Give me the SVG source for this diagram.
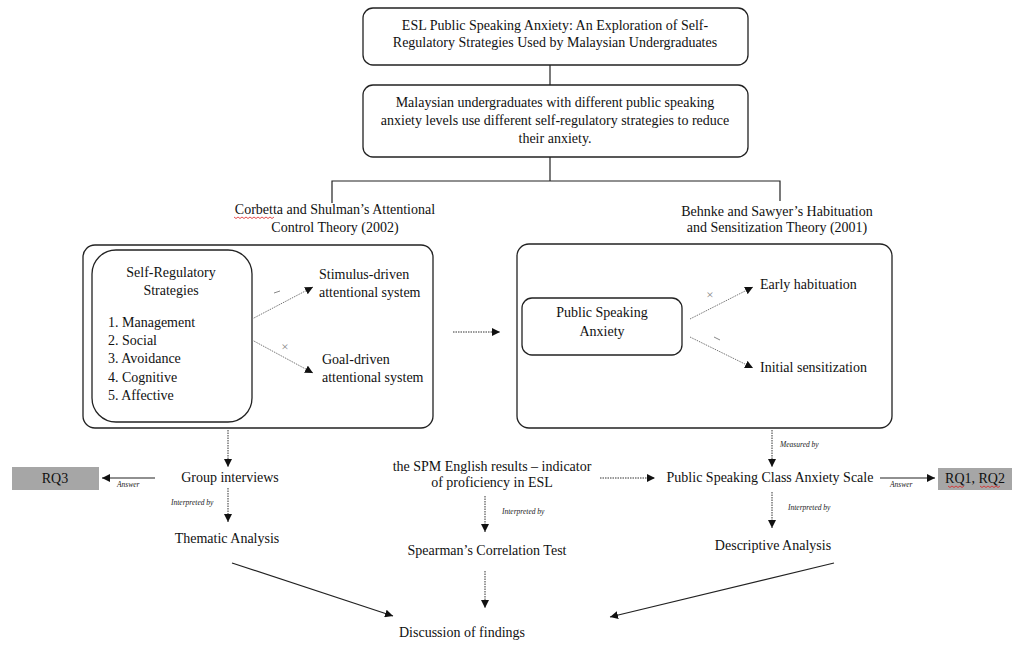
<svg xmlns="http://www.w3.org/2000/svg" width="1012" height="646" viewBox="0 0 1012 646" font-family="Liberation Serif, DejaVu Serif, serif">
  <style>
    .t { font-family: "Liberation Serif", "DejaVu Serif", serif; font-size: 14px; fill: #111; }
    .c { text-anchor: middle; }
    .lab { font-family: "Liberation Serif", "DejaVu Serif", serif; font-size: 7.5px; font-style: italic; fill: #222; }
    .sym { font-family: "Liberation Serif", "DejaVu Serif", serif; font-size: 13px; fill: #888; text-anchor: middle; }
    .box { fill: none; stroke: #222; stroke-width: 1.3; }
    .rq { fill: #a6a6a6; stroke: none; }
    .solid { fill: none; stroke: #222; stroke-width: 1.2; }
    .dot { fill: none; stroke: #333; stroke-width: 1; stroke-dasharray: 1.5 1; }
    .dotg { fill: none; stroke: #777; stroke-width: 1; stroke-dasharray: 1.5 1; }
    .squig { fill: none; stroke: #d22; stroke-width: 0.8; }
  </style>
  <defs>
    <marker id="ah" markerUnits="userSpaceOnUse" markerWidth="9" markerHeight="8" refX="8" refY="4" orient="auto">
      <path d="M0,0 L8,4 L0,8 Z" fill="#111"/>
    </marker>
  </defs>
  <rect width="1012" height="646" fill="#fff"/>

  <g id="title">
    <rect class="box" x="363" y="8" width="385" height="57" rx="10"/>
    <text class="t c" x="555" y="30">ESL Public Speaking Anxiety: An Exploration of Self-</text>
    <text class="t c" x="555" y="47">Regulatory Strategies Used by Malaysian Undergraduates</text>
  </g>

  <g id="hypothesis">
    <rect class="box" x="363" y="85" width="385" height="72" rx="10"/>
    <text class="t c" x="555" y="107">Malaysian undergraduates with different public speaking</text>
    <text class="t c" x="555" y="125">anxiety levels use different self-regulatory strategies to reduce</text>
    <text class="t c" x="555" y="143">their anxiety.</text>
  </g>

  <g id="theory-left-title">
    <text class="t c" x="335" y="214">Corbetta and Shulman’s Attentional</text>
    <text class="t c" x="335" y="232">Control Theory (2002)</text>
    <path class="squig" d="M234,217 l2,1.5 l2,-1.5 l2,1.5 l2,-1.5 l2,1.5 l2,-1.5 l2,1.5 l2,-1.5 l2,1.5 l2,-1.5 l2,1.5 l2,-1.5 l2,1.5 l2,-1.5 l2,1.5 l2,-1.5 l2,1.5 l2,-1.5 l2,1.5 l2,-1.5"/>
  </g>

  <g id="theory-right-title">
    <text class="t c" x="777" y="216">Behnke and Sawyer’s Habituation</text>
    <text class="t c" x="777" y="232">and Sensitization Theory (2001)</text>
  </g>

  <g id="attentional-control">
    <rect class="box" x="83" y="245" width="350" height="183" rx="12"/>
  </g>

  <g id="strategies">
    <rect class="box" x="92" y="250" width="160" height="172" rx="24"/>
    <text class="t c" x="171" y="277">Self-Regulatory</text>
    <text class="t c" x="171" y="295">Strategies</text>
    <text class="t" x="108" y="327">1. Management</text>
    <text class="t" x="108" y="345">2. Social</text>
    <text class="t" x="108" y="363">3. Avoidance</text>
    <text class="t" x="108" y="382">4. Cognitive</text>
    <text class="t" x="108" y="400">5. Affective</text>
  </g>

  <g id="stimulus-driven">
    <text class="t" x="319" y="279">Stimulus-driven</text>
    <text class="t" x="319" y="297">attentional system</text>
  </g>

  <g id="goal-driven">
    <text class="t" x="322" y="364">Goal-driven</text>
    <text class="t" x="322" y="382">attentional system</text>
  </g>

  <g id="habituation-sensitization">
    <rect class="box" x="517" y="244" width="375" height="184" rx="12"/>
  </g>

  <g id="psa">
    <rect class="box" x="522" y="298" width="160" height="57" rx="10"/>
    <text class="t c" x="602" y="317">Public Speaking</text>
    <text class="t c" x="602" y="336">Anxiety</text>
  </g>

  <g id="early-habituation">
    <text class="t" x="760" y="289">Early habituation</text>
  </g>

  <g id="initial-sensitization">
    <text class="t" x="760" y="372">Initial sensitization</text>
  </g>

  <g id="rq3">
    <rect class="rq" x="12" y="467" width="87" height="23"/>
    <text class="t c" x="55" y="483">RQ3</text>
  </g>

  <g id="group-interviews">
    <text class="t c" x="230" y="482">Group interviews</text>
  </g>

  <g id="thematic-analysis">
    <text class="t c" x="227" y="543">Thematic Analysis</text>
  </g>

  <g id="spm-results">
    <text class="t c" x="492" y="471">the SPM English results – indicator</text>
    <text class="t c" x="492" y="487">of proficiency in ESL</text>
  </g>

  <g id="spearman">
    <text class="t c" x="487" y="555">Spearman’s Correlation Test</text>
  </g>

  <g id="pscas">
    <text class="t c" x="770" y="482">Public Speaking Class Anxiety Scale</text>
  </g>

  <g id="rq1-rq2">
    <rect class="rq" x="938" y="468" width="74" height="22"/>
    <text class="t c" x="975" y="483">RQ1, RQ2</text>
    <path class="squig" d="M948,486 l2,1.5 l2,-1.5 l2,1.5 l2,-1.5 l2,1.5 l2,-1.5 l2,1.5 l2,-1.5 M980,486 l2,1.5 l2,-1.5 l2,1.5 l2,-1.5 l2,1.5 l2,-1.5 l2,1.5 l2,-1.5 l2,1.5 l2,-1.5"/>
  </g>

  <g id="descriptive-analysis">
    <text class="t c" x="773" y="550">Descriptive Analysis</text>
  </g>

  <g id="discussion">
    <text class="t c" x="462" y="637">Discussion of findings</text>
  </g>

  <!-- connectors -->
  <g id="connectors">
    <line class="solid" x1="550" y1="65" x2="550" y2="85"/>
    <polyline class="solid" points="550,157 550,181"/>
    <polyline class="solid" points="332,203 332,181 780,181 780,201"/>
    <!-- inside left box -->
    <line class="dotg" x1="252" y1="319" x2="313" y2="287" marker-end="url(#ah)"/>
    <line class="dotg" x1="252" y1="340" x2="313" y2="373" marker-end="url(#ah)"/>
    <line x1="274" y1="293" x2="280" y2="291" stroke="#888" stroke-width="1"/>
    <text class="sym" x="285" y="351">×</text>
    <!-- between boxes -->
    <line class="dot" x1="453" y1="332" x2="500" y2="332" marker-end="url(#ah)"/>
    <!-- inside right box -->
    <line class="dotg" x1="690" y1="319" x2="753" y2="287" marker-end="url(#ah)"/>
    <line class="dotg" x1="690" y1="337" x2="753" y2="368" marker-end="url(#ah)"/>
    <text class="sym" x="710" y="299">×</text>
    <line x1="714" y1="337" x2="720" y2="340" stroke="#888" stroke-width="1"/>
    <!-- left column -->
    <line class="dot" x1="228" y1="430" x2="228" y2="467" marker-end="url(#ah)"/>
    <line class="solid" x1="155" y1="478" x2="102" y2="478" marker-end="url(#ah)"/>
    <text class="lab" x="117" y="487">Answer</text>
    <line class="dot" x1="228" y1="488" x2="228" y2="522" marker-end="url(#ah)"/>
    <text class="lab" x="171" y="505">Interpreted by</text>
    <!-- middle column -->
    <line class="dot" x1="600" y1="478" x2="655" y2="478" marker-end="url(#ah)"/>
    <line class="dot" x1="485" y1="496" x2="485" y2="532" marker-end="url(#ah)"/>
    <text class="lab" x="502" y="514">Interpreted by</text>
    <line class="dot" x1="485" y1="571" x2="485" y2="608" marker-end="url(#ah)"/>
    <!-- right column -->
    <line class="dot" x1="772" y1="430" x2="772" y2="467" marker-end="url(#ah)"/>
    <text class="lab" x="780" y="447">Measured  by</text>
    <line class="solid" x1="880" y1="478" x2="935" y2="478" marker-end="url(#ah)"/>
    <text class="lab" x="890" y="487">Answer</text>
    <line class="dot" x1="772" y1="492" x2="772" y2="528" marker-end="url(#ah)"/>
    <text class="lab" x="788" y="510">Interpreted by</text>
    <!-- to discussion -->
    <line class="solid" x1="232" y1="563" x2="393" y2="616" marker-end="url(#ah)"/>
    <line class="solid" x1="834" y1="563" x2="610" y2="617" marker-end="url(#ah)"/>
  </g>
</svg>
